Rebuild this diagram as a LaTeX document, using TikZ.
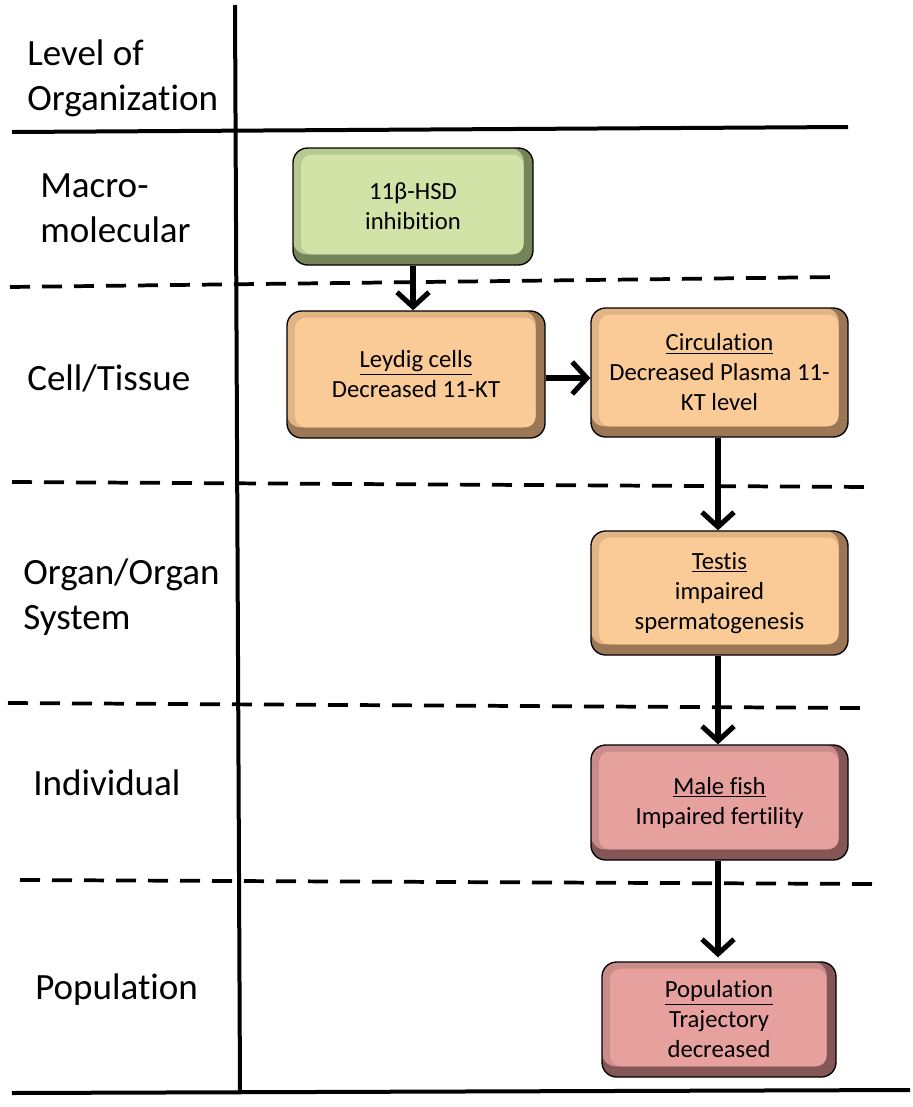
\documentclass[tikz,border=0pt]{standalone}
\usepackage{fontspec}
\setmainfont{Carlito}[Ligatures=NoCommon]
\usetikzlibrary{%
  arrows.meta,%
  positioning,%
  calc%
}

\definecolor{greenface}{HTML}{D2E3A7}
\definecolor{greenrim}{HTML}{76845A}
\definecolor{orangeface}{HTML}{FBCB97}
\definecolor{orangerim}{HTML}{9C7755}
\definecolor{pinkface}{HTML}{E6A19F}
\definecolor{pinkrim}{HTML}{845656}

\begin{document}
\begin{tikzpicture}[
  x=0.75pt,y=-0.75pt,
  >={Straight Barb[length=11pt,width=24pt]},
  axisline/.style={line width=3pt},
  levelline/.style={line width=2.8pt,dash pattern=on 15pt off 9pt},
  label/.style={anchor=west,align=left,inner sep=0pt,
    font=\fontsize{27.8}{33.5}\selectfont},
  keybox/.style={draw=black,line width=1pt,rounded corners=11pt,
    align=center,inner sep=2pt,font=\fontsize{18.5}{22.5}\selectfont,
    minimum width=192.75pt},
  bevel/.style={fill=#1rim,
    path picture={
      \fill[#1face!72!#1rim,rounded corners=10pt]
        (path picture bounding box.north west) rectangle
        ([xshift=-7pt,yshift=8pt]path picture bounding box.south east);
      \fill[#1face,rounded corners=8pt]
        ([xshift=6pt,yshift=-5pt]path picture bounding box.north west) rectangle
        ([xshift=-7pt,yshift=8pt]path picture bounding box.south east);}},
  arr/.style={->,line width=3.8pt},
]

\useasboundingbox (0,0) rectangle (913,1107);

% frame
\draw[axisline] (235,5) -- (240,1091);
\draw[axisline] (12,132) -- (848,127);
\draw[axisline] (12,1093) -- (910,1090);
\draw[levelline] (10,287) -- (838,277);
\draw[levelline] (12,482) -- (870,487);
\draw[levelline] (8,703) -- (862,708);
\draw[levelline] (20,880) -- (875,884);

% levels
\node[label] (lvl) at (27,78) {Level of\\Organization};
\node[label] (macro) at (40,208) {Macro-\\molecular};
\node[label] (cell) at (27,378) {Cell/Tissue};
\node[label] (organ) at (23,597) {Organ/Organ\\System};
\node[label] (indiv) at (33,783) {Individual};
\node[label] (pop) at (35,990) {Population};

% key events
\node[keybox,bevel=green,minimum width=180pt,minimum height=87.75pt]
  (hsd) at (413,206.5) {11β-HSD\\inhibition};
\node[keybox,bevel=orange,minimum width=193.5pt,minimum height=95.25pt]
  (leydig) at (416,374.5) {\underline{Leydig cells}\\Decreased 11-KT};
\node[keybox,bevel=orange,minimum height=96.75pt]
  (circ) at (719.5,372.5) {\underline{Circulation}\\Decreased Plasma 11-\\KT level};
\node[keybox,bevel=orange,minimum height=93pt]
  (testis) at (719.5,593) {\underline{Testis}\\impaired\\spermatogenesis};
\node[keybox,bevel=pink,minimum height=86.25pt]
  (male) at (719.5,802.5) {\underline{Male fish}\\Impaired fertility};
\node[keybox,bevel=pink,minimum width=175.5pt,minimum height=86.25pt]
  (popbox) at (719,1019.5) {\underline{Population}\\Trajectory\\decreased};

\draw[arr] (hsd) -- (leydig.north -| hsd);
\draw[arr] (leydig.east |- 0,378) -- (circ.west |- 0,378);
\draw[arr] (circ.south -| 718,0) -- (testis.north -| 718,0);
\draw[arr] (testis.south -| 718,0) -- (male.north -| 718,0);
\draw[arr] (male.south -| 718,0) -- ([yshift=3pt]popbox.north -| 718,0);

\end{tikzpicture}
\end{document}
